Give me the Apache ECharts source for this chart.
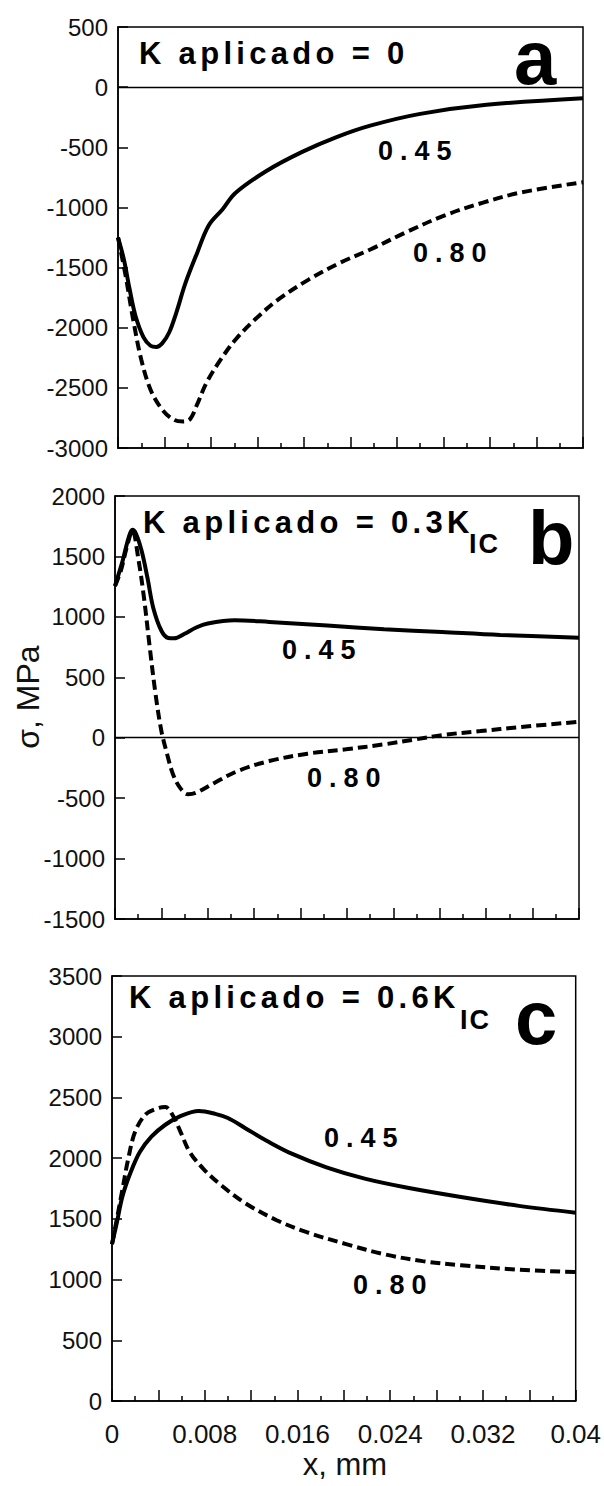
<!DOCTYPE html>
<html><head><meta charset="utf-8">
<script src="https://cdn.jsdelivr.net/npm/echarts@6/dist/echarts.min.js"></script>
<style>html,body{margin:0;padding:0;background:#fff}#chart{width:604px;height:1486px}</style>
</head><body><div id="chart"></div>
<script>
// ---- data ----
const xTickLabels = ['0', '0.008', '0.016', '0.024', '0.032', '0.04'];
const panelTitles = ['K aplicado = 0', 'K aplicado = 0.3K', 'K aplicado = 0.6K'];
const titleSubs = ['', 'IC', 'IC'];
const panelLetters = ['a', 'b', 'c'];
const seriesNames = ['0.45', '0.80'];
const yMin = [-3000, -1500, 0];
const yMax = [500, 2000, 3500];

// panel a, 0.45 (solid)
const xA45 = [0, 0.0005, 0.001, 0.0015, 0.0022, 0.0028, 0.0033, 0.0038, 0.0044, 0.005, 0.0058, 0.0068, 0.0078, 0.009, 0.0101, 0.0128, 0.0158, 0.0188, 0.0217, 0.026, 0.0317, 0.04];
const yA45 = [-1250, -1430, -1680, -1900, -2080, -2150, -2160, -2130, -2040, -1880, -1630, -1380, -1150, -1015, -880, -695, -540, -415, -320, -222, -147, -92];
// panel a, 0.80 (dashed)
const xA80 = [0, 0.00066, 0.0013, 0.002, 0.0028, 0.0038, 0.0048, 0.0056, 0.0062, 0.0068, 0.0076, 0.0088, 0.0101, 0.0118, 0.0138, 0.0164, 0.0191, 0.0217, 0.0247, 0.028, 0.0314, 0.0347, 0.04];
const yA80 = [-1250, -1570, -1930, -2265, -2515, -2680, -2765, -2780, -2760, -2640, -2460, -2270, -2100, -1930, -1765, -1600, -1460, -1350, -1210, -1070, -960, -875, -790];
// panel b, 0.45
const xB45 = [0, 0.0003, 0.00066, 0.00116, 0.0015, 0.0018, 0.0023, 0.0028, 0.0033, 0.004, 0.0046, 0.0051, 0.006, 0.007, 0.008, 0.0103, 0.0133, 0.0183, 0.0232, 0.0282, 0.0332, 0.04];
const yB45 = [1255, 1350, 1465, 1650, 1720, 1690, 1545, 1322, 1074, 885, 825, 822, 860, 912, 945, 972, 958, 928, 898, 874, 850, 828];
// panel b, 0.80
const xB80 = [0, 0.0005, 0.001, 0.0015, 0.002, 0.0025, 0.003, 0.0035, 0.004, 0.0045, 0.005, 0.0056, 0.0063, 0.007, 0.0086, 0.0106, 0.0133, 0.0166, 0.0199, 0.0232, 0.0259, 0.0282, 0.0315, 0.0349, 0.04];
const yB80 = [1255, 1380, 1570, 1715, 1488, 1157, 744, 358, 55, -138, -303, -413, -468, -455, -372, -275, -193, -132, -96, -55, -14, 22, 55, 88, 132];
// panel c, 0.45
const xC45 = [0, 0.0004, 0.0009, 0.0016, 0.0024, 0.0034, 0.0046, 0.0059, 0.0075, 0.0089, 0.01, 0.0115, 0.0135, 0.0155, 0.0185, 0.0218, 0.0255, 0.0301, 0.0351, 0.04];
const yC45 = [1292, 1461, 1685, 1882, 2051, 2177, 2275, 2346, 2388, 2365, 2331, 2247, 2135, 2037, 1924, 1831, 1756, 1680, 1607, 1551];
// panel c, 0.80
const xC80 = [0, 0.0004, 0.0009, 0.0014, 0.002, 0.0029, 0.0039, 0.0046, 0.0052, 0.0059, 0.0067, 0.0079, 0.0095, 0.0115, 0.0142, 0.0168, 0.0202, 0.0235, 0.0268, 0.0301, 0.0351, 0.04];
const yC80 = [1292, 1489, 1742, 1994, 2219, 2360, 2410, 2421, 2360, 2219, 2051, 1910, 1770, 1629, 1489, 1390, 1292, 1208, 1152, 1118, 1081, 1062];

// ---- layout ----
const grids = [
  {left: 118, top: 27, width: 465, height: 421},
  {left: 115, top: 496, width: 464, height: 423},
  {left: 112, top: 976, width: 466, height: 425}
];
const FONT = 'Liberation Sans';
const pair = (xs, ys) => xs.map((x, i) => [x, ys[i]]);
const panelData = [[pair(xA45, yA45), pair(xA80, yA80)], [pair(xB45, yB45), pair(xB80, yB80)], [pair(xC45, yC45), pair(xC80, yC80)]];

const xAxes = grids.map((g, i) => ({
  gridIndex: i, type: 'value', min: 0, max: 0.04, interval: 0.004,
  axisLine: {show: true, onZero: false, lineStyle: {color: '#000', width: 1.5}},
  axisTick: {show: true, inside: true, length: 11, lineStyle: {color: '#000', width: 1.5}},
  minorTick: {show: true, splitNumber: 2, length: 5, lineStyle: {color: '#000', width: 1.5}},
  splitLine: {show: false}, minorSplitLine: {show: false},
  axisLabel: {
    show: i === 2, margin: 20, fontSize: 26, fontFamily: FONT, color: '#111',
    showMinLabel: true, showMaxLabel: true,
    formatter: v => { const k = Math.round(v * 1000); return k % 8 === 0 ? xTickLabels[k / 8] : ''; }
  }
}));
const yAxes = grids.map((g, i) => ({
  gridIndex: i, type: 'value', min: yMin[i], max: yMax[i], interval: 500,
  axisLine: {show: true, onZero: false, lineStyle: {color: '#000', width: 1.5}},
  axisTick: {show: true, inside: true, length: 10, lineStyle: {color: '#000', width: 1.5}},
  splitLine: {show: false},
  axisLabel: {margin: 10, fontSize: 24, fontFamily: FONT, color: '#111', showMinLabel: true, showMaxLabel: true,
    formatter: v => String(v)}
}));

const series = [];
panelData.forEach((pd, i) => {
  pd.forEach((d, j) => {
    const s = {
      type: 'line', name: seriesNames[j], xAxisIndex: i, yAxisIndex: i, data: d,
      showSymbol: false, smooth: 0.35, silent: true,
      lineStyle: {color: '#000', width: 4, type: j === 0 ? 'solid' : [10, 5]}
    };
    if (j === 0 && i < 2) {
      s.markLine = {silent: true, symbol: 'none', label: {show: false},
        lineStyle: {color: '#000', width: 1.3, type: 'solid'}, data: [{yAxis: 0}]};
    }
    series.push(s);
  });
});

// annotation positions (pixels)
const titlePos = [[139, 53], [143, 522], [129, 997]];
const subPos = [null, [469, 544], [460, 1020]];
const letterPos = [[514, 57], [528, 537], [515, 1017]];
const lab45Pos = [[378, 151], [282, 650], [324, 1138]];
const lab80Pos = [[413, 253], [307, 778], [353, 1285]];

const bold = (fs) => ({fontFamily: FONT, fontWeight: 'bold', fontSize: fs, fill: '#000', align: 'left', verticalAlign: 'middle'});
const graphic = [];
for (let i = 0; i < 3; i++) {
  graphic.push({type: 'text', x: titlePos[i][0], y: titlePos[i][1], silent: true, style: Object.assign({text: panelTitles[i]}, bold(31))});
  if (titleSubs[i]) graphic.push({type: 'text', x: subPos[i][0], y: subPos[i][1], silent: true, style: Object.assign({text: titleSubs[i]}, bold(27))});
  graphic.push({type: 'text', x: letterPos[i][0], y: letterPos[i][1], silent: true, style: Object.assign({text: panelLetters[i]}, bold(76))});
  graphic.push({type: 'text', x: lab45Pos[i][0], y: lab45Pos[i][1], silent: true, style: Object.assign({text: seriesNames[0]}, bold(27))});
  graphic.push({type: 'text', x: lab80Pos[i][0], y: lab80Pos[i][1], silent: true, style: Object.assign({text: seriesNames[1]}, bold(27))});
}
graphic.push({type: 'text', x: 28, y: 697, rotation: Math.PI / 2, silent: true,
  style: {text: 'σ, MPa', fontFamily: FONT, fontSize: 32, fill: '#111', align: 'center', verticalAlign: 'middle'}});
graphic.push({type: 'text', x: 345, y: 1464, silent: true,
  style: {text: 'x, mm', fontFamily: FONT, fontSize: 31, fill: '#111', align: 'center', verticalAlign: 'middle'}});

const chart = echarts.init(document.getElementById('chart'), null, {renderer: 'svg'});
chart.setOption({
  animation: false,
  backgroundColor: '#fff',
  grid: grids.map(g => Object.assign({show: true, borderColor: '#000', borderWidth: 1.5, backgroundColor: 'transparent'}, g)),
  xAxis: xAxes, yAxis: yAxes, series: series, graphic: graphic
});

// tracked (letter-spaced) annotation text as in the original figure
const spacing = {'K aplicado = 0': 4.3, 'K aplicado = 0.3K': 4.3, 'K aplicado = 0.6K': 4.3, 'IC': 2, '0.45': 7, '0.80': 7};
function applySpacing() {
  document.querySelectorAll('#chart text').forEach(t => {
    const s = spacing[t.textContent];
    if (s) t.style.letterSpacing = s + 'px';
  });
}
chart.on('finished', applySpacing);
applySpacing();
setTimeout(applySpacing, 30);
setTimeout(applySpacing, 200);
</script></body></html>
